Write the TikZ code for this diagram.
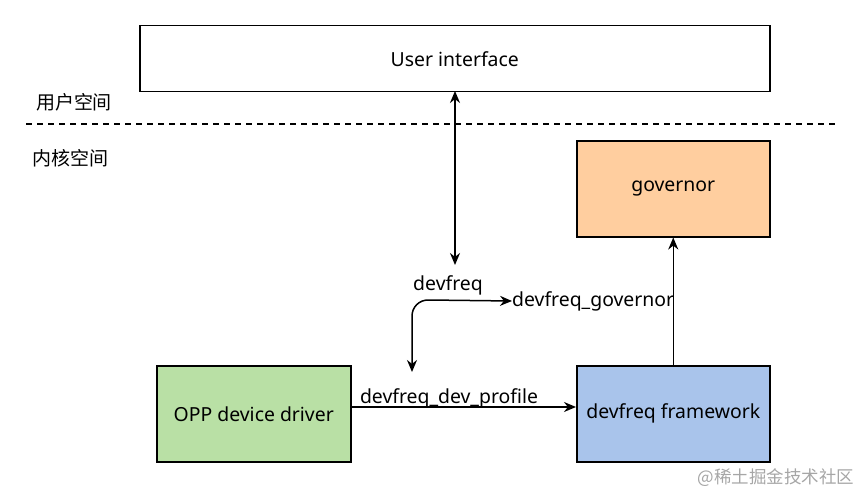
\documentclass[tikz,border=0pt]{standalone}
\usepackage{fontspec}
\setmainfont{Noto Sans}
\newfontfamily\cjk{Noto Sans CJK SC}
\usetikzlibrary{arrows.meta}
\definecolor{gfill}{HTML}{B9E0A5}
\definecolor{ofill}{HTML}{FFCE9F}
\definecolor{bfill}{HTML}{A9C4EB}
\tikzset{
  box/.style={draw=black, line width=1.5pt, inner sep=0pt, anchor=north west},
  lbl/.style={font=\fontsize{19.4}{23}\selectfont, inner sep=0pt},
  conn/.style={line width=1.5pt, -{Stealth[length=12pt,width=10pt]}},
  dconn/.style={line width=1.5pt, {Stealth[length=12pt,width=10pt]}-{Stealth[length=12pt,width=10pt]}},
}
\begin{document}
\begin{tikzpicture}[x=1pt,y=-1pt]
\useasboundingbox (0,0) rectangle (863,495);
\node[box, minimum width=630pt, minimum height=66pt] (ui) at (139,25) {};
\node[lbl] at (ui.center) {User interface};
\node[lbl, font=\cjk\fontsize{19}{22}\selectfont] (us) at (74,102) {用户空间};
\coordinate (dl) at (26,124);
\coordinate (dr) at (836,124);
\draw[line width=1.5pt, dash pattern=on 6pt off 5pt] (dl) -- (dr);
\node[lbl, font=\cjk\fontsize{19}{22}\selectfont] (ks) at (70,158) {内核空间};
\node[box, fill=ofill, minimum width=193pt, minimum height=96pt] (gov) at (576,140) {};
\node[lbl] at (gov.center) {governor};
\node[box, fill=gfill, minimum width=194pt, minimum height=96pt] (opp) at (156,365) {};
\node[lbl] at (opp.center) {OPP device driver};
\node[box, fill=bfill, minimum width=193pt, minimum height=96pt] (fw) at (576,365) {};
\node[lbl] at (fw.center) {devfreq framework};
\node[lbl] (df) at (448,285) {devfreq};
\node[lbl, anchor=west] (dg) at (512,301) {devfreq\_governor};
\node[lbl] (dp) at (449,398) {devfreq\_dev\_profile};
\coordinate (uitop) at (455,91);
\coordinate (dfend) at (455,265);
\draw[dconn] (uitop) -- (dfend);
\coordinate (pend) at (412,372);
\draw[dconn] (pend) -- (412,316) to[out=90,in=180] (428,300) -- (dg.west);
\draw[conn] (opp.east |- 0,407) -- (fw.west |- 0,407);
\draw[conn] (fw.north) -- (gov.south);
\node[lbl, font=\cjk\fontsize{17.5}{20}\selectfont, text=black!35] (wm) at (776,478) {@稀土掘金技术社区};
\end{tikzpicture}
\end{document}
